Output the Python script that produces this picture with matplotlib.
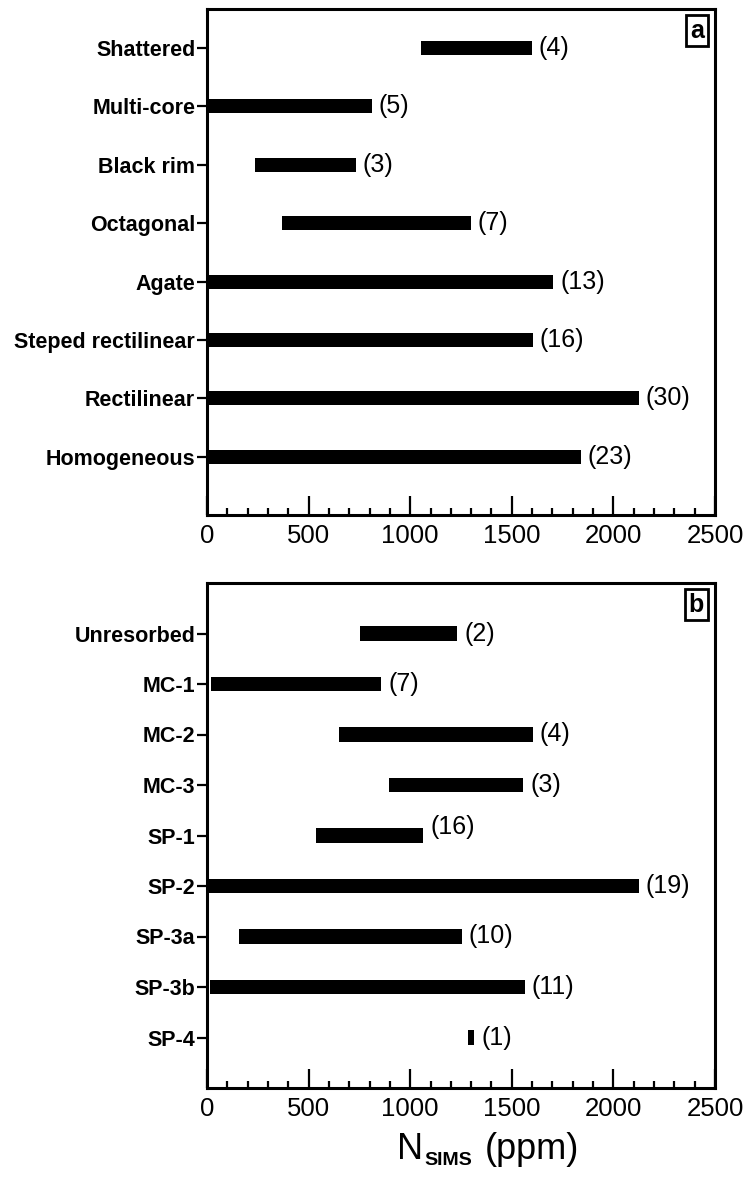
import matplotlib
matplotlib.use("Agg")
import matplotlib.pyplot as plt
from matplotlib.ticker import MultipleLocator

plt.rcParams['font.family'] = ['Liberation Sans', 'DejaVu Sans']

# (a) zoning types: N range (ppm) and number of grains
types_a = ["Shattered", "Multi-core", "Black rim", "Octagonal", "Agate",
           "Steped rectilinear", "Rectilinear", "Homogeneous"]
low_a = [1055, 0, 236, 369, 0, 0, 0, 0]
high_a = [1598, 812, 733, 1299, 1705, 1603, 2124, 1839]
count_a = [4, 5, 3, 7, 13, 16, 30, 23]

# (b) growth stages
types_b = ["Unresorbed", "MC-1", "MC-2", "MC-3", "SP-1", "SP-2", "SP-3a",
           "SP-3b", "SP-4"]
low_b = [752, 21, 649, 898, 538, 0, 156, 16, 1285]
high_b = [1231, 858, 1603, 1556, 1065, 2124, 1254, 1565, 1315]
count_b = [2, 7, 4, 3, 16, 19, 10, 11, 1]

W, H = 749, 1187
fig = plt.figure(figsize=(W / 100, H / 100), dpi=100)
left, width = 207 / W, 508 / W
ax_a = fig.add_axes([left, 1 - 515 / H, width, 506 / H])
ax_b = fig.add_axes([left, 1 - 1088 / H, width, 505 / H])


def draw_panel(ax, names, lo, hi, counts, bar_h, top, tag, lift=None):
    lift = lift or {}
    n = len(names)
    ys = [n - 1 - i for i in range(n)]
    ax.barh(ys, [h - l for l, h in zip(lo, hi)], left=lo, height=bar_h,
            color='black', edgecolor='none')
    for y, h, c, name in zip(ys, hi, counts, names):
        ax.annotate(f"({c})", xy=(h, y), xytext=(5, lift.get(name, 0)),
                    textcoords='offset points', ha='left', va='center',
                    fontsize=18)
    ax.set_xlim(0, 2500)
    ax.set_ylim(-1, top)
    ax.set_yticks(ys)
    ax.set_yticklabels(names, fontsize=15.5, fontweight='bold')
    ax.xaxis.set_major_locator(MultipleLocator(500))
    ax.xaxis.set_minor_locator(MultipleLocator(100))
    ax.tick_params(axis='x', which='major', direction='in', length=14,
                   width=1.6, labelsize=18.5, pad=6.5)
    ax.tick_params(axis='x', which='minor', direction='in', length=5,
                   width=1.6)
    ax.tick_params(axis='y', direction='out', length=7, width=1.6, pad=1.5)
    for s in ax.spines.values():
        s.set_linewidth(2.2)
    ax.annotate(tag, xy=(1, 1), xycoords='axes fraction', xytext=(-8, -7),
                textcoords='offset points', ha='right', va='top',
                fontsize=18, fontweight='bold',
                bbox=dict(boxstyle='square,pad=0.15', fc='white', ec='black',
                          lw=2))


draw_panel(ax_a, types_a, low_a, high_a, count_a, 0.24, 7.67, 'a')
draw_panel(ax_b, types_b, low_b, high_b, count_b, 0.28, 9, 'b',
           lift={'SP-1': 6})

# x-axis title with subscript
t_n = ax_b.annotate('N', xy=(397 / W, 1 - 1167 / H), xycoords='figure fraction',
                    ha='left', va='bottom', fontsize=26)
t_sub = ax_b.annotate('SIMS', xy=(1, 0), xycoords=t_n, xytext=(1, -1.5),
                      textcoords='offset points', ha='left', va='bottom',
                      fontsize=14, fontweight='bold')
ax_b.annotate('(ppm)', xy=(1, 0), xycoords=(t_sub, t_n), xytext=(9, 0),
              textcoords='offset points', ha='left', va='bottom', fontsize=26)

fig.savefig('out.png', dpi=100)
